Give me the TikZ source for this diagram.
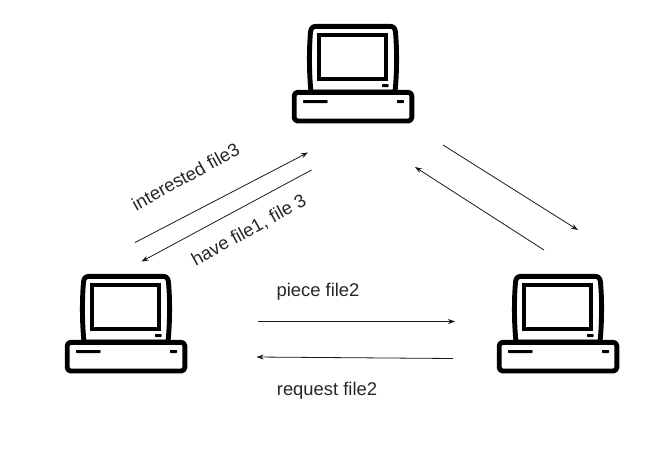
\documentclass[tikz,border=0pt]{standalone}
\usepackage{fontspec}
\setmainfont{Liberation Sans}
\usetikzlibrary{arrows.meta}
\tikzset{
  thick outline/.style={draw=black,line width=4.9pt,line join=round,fill=white},
  dark mark/.style={fill=black,rounded corners=0.6pt},
  link/.style={draw=black!90,line width=0.8pt,-{Stealth[length=7pt,width=5pt]}},
  caption/.style={font=\fontsize{18.4}{21}\selectfont,text=black!85,inner sep=0pt},
  computer/.pic={
    % monitor housing with slightly bowed sides
    \path[thick outline] (4,68) .. controls (2,48) and (2,26) .. (3.5,8)
      .. controls (4,3.5) and (6,2.3) .. (10,2.3) -- (82,2.3)
      .. controls (86,2.3) and (88,3.5) .. (88.5,8)
      .. controls (90,26) and (90,48) .. (88,68) -- cycle;
    % screen
    \path[thick outline,line join=miter] (12,11) rectangle (79,55);
    % power light on the monitor
    \path[dark mark] (75,60) rectangle (81.5,63);
    % base unit
    \path[thick outline,rounded corners=3.5pt] (-12.8,68.3) rectangle (104.8,97);
    % drive slot and base light
    \path[dark mark] (-4,76) rectangle (20.5,79);
    \path[dark mark] (90,76) rectangle (97,79);
  }
}
\begin{document}
\begin{tikzpicture}[x=1pt,y=-1pt]
  \useasboundingbox (0,0) rectangle (672,448);
  % the three peers; the origin of each is the top left of its monitor
  \pic at (307,24) {computer};
  \pic at (80,274) {computer};
  \pic at (512,274) {computer};
  % connector end points
  \coordinate (a1) at (135,242.5);
  \coordinate (a2) at (308,152.5);
  \coordinate (b1) at (311.5,170);
  \coordinate (b2) at (141.5,261.5);
  \coordinate (c1) at (443,145);
  \coordinate (c2) at (578,230);
  \coordinate (d1) at (544,250);
  \coordinate (d2) at (415,167);
  \coordinate (e1) at (258,321.5);
  \coordinate (e2) at (455,321.5);
  \coordinate (f1) at (453,358.5);
  \coordinate (f2) at (256.5,357);
  \draw[link] (a1) -- (a2);
  \draw[link] (b1) -- (b2);
  \draw[link] (c1) -- (c2);
  \draw[link] (d1) -- (d2);
  \draw[link] (e1) -- (e2);
  \draw[link] (f1) -- (f2);
  % message labels
  \node[caption,rotate=29] (interested) at (185.5,176.5) {interested file3};
  \node[caption,rotate=29] (have) at (249,230.5) {have file1, file 3};
  \node[caption] (piece) at (318,291.5) {piece file2};
  \node[caption] (request) at (327,391) {request file2};
\end{tikzpicture}
\end{document}
